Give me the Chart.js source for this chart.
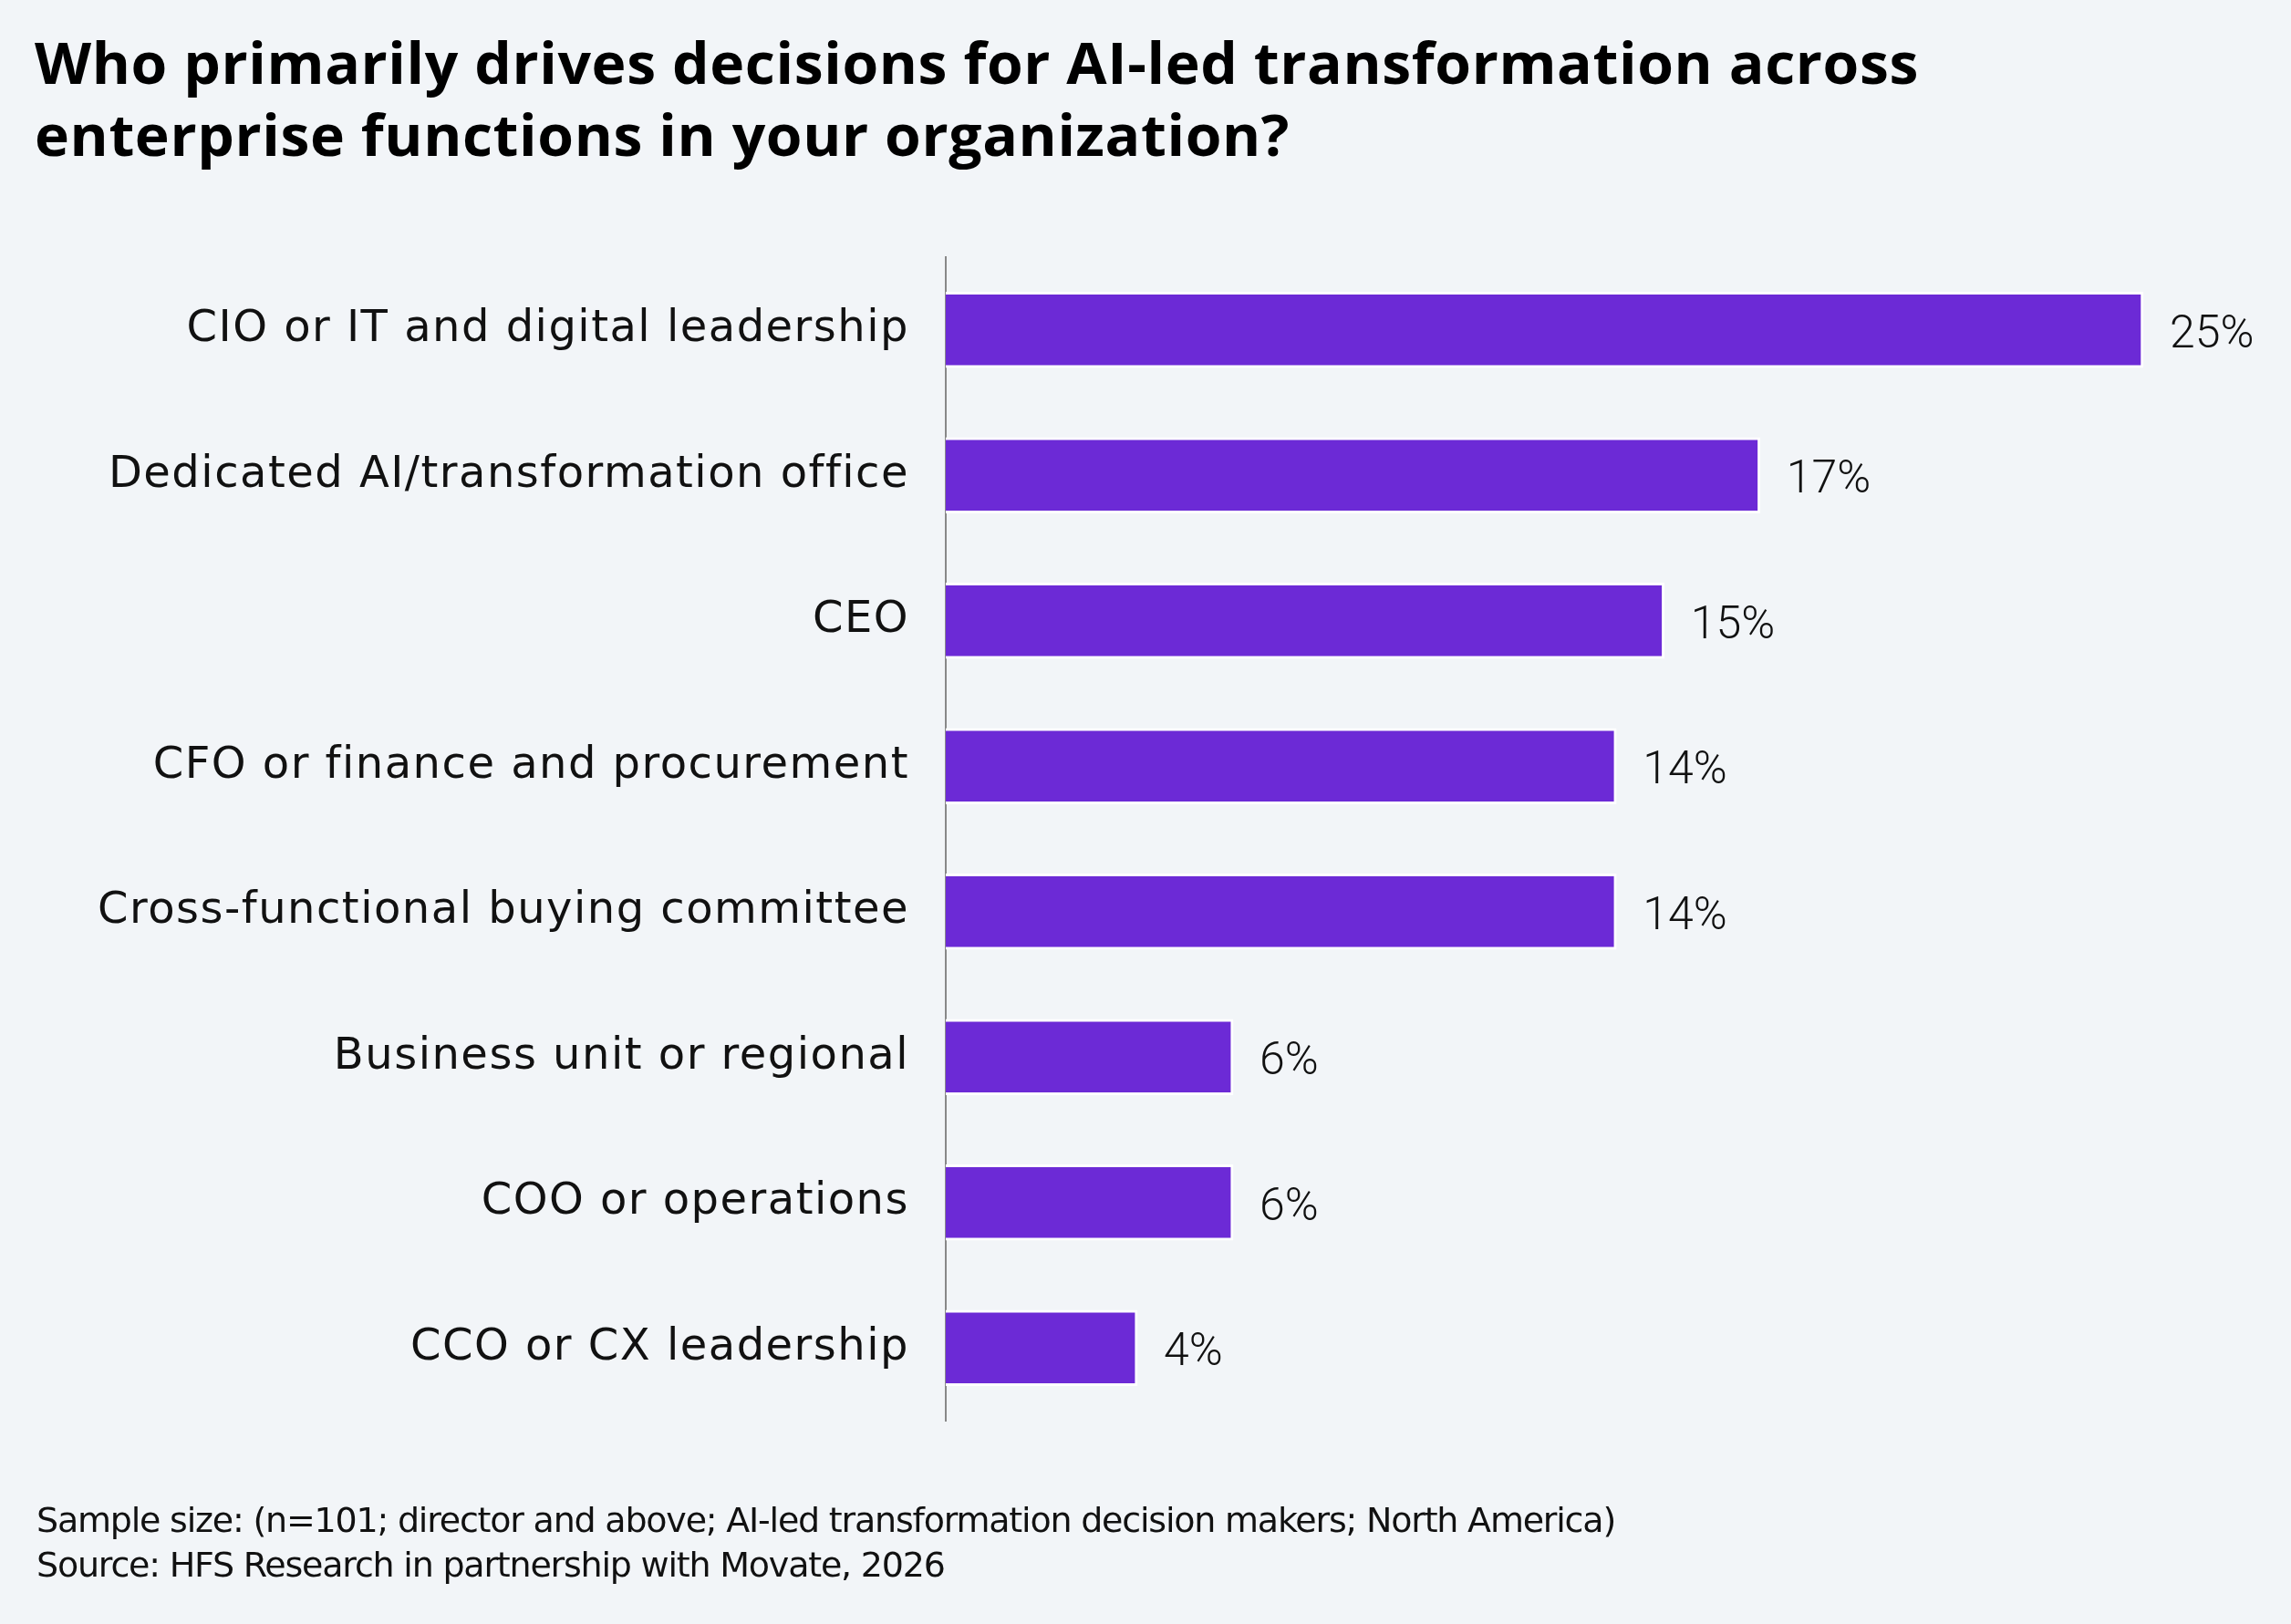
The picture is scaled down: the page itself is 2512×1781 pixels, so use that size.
<!DOCTYPE html>
<html>
<head>
<meta charset="utf-8">
<script src="https://cdn.jsdelivr.net/npm/chart.js@4.4.1/dist/chart.umd.min.js"></script>
<style>
  html, body { margin: 0; padding: 0; background: #F2F5F8; }
  #wrap { position: relative; width: 2512px; height: 1781px; background: #F2F5F8; overflow: hidden; }
  #title { position: absolute; left: 38px; top: 28px; font-family: "Open Sans", sans-serif; font-weight: 700; font-size: 63px; line-height: 79px; color: #000; white-space: nowrap; }
  #foot { position: absolute; left: 40px; top: 1643px; font-family: "DejaVu Sans", sans-serif; font-weight: 400; font-size: 38px; line-height: 49px; color: #111; white-space: nowrap; }
  .ln { display: inline-block; transform-origin: 0 50%; }
  #c { position: absolute; left: 0; top: 0; }
</style>
</head>
<body>
<div id="wrap">
  <div id="title"><span class="ln" id="t1">Who primarily drives decisions for AI-led transformation across</span><br><span class="ln" id="t2">enterprise functions in your organization?</span></div>
  <canvas id="c" width="2512" height="1781"></canvas>
  <div id="foot"><span class="ln" id="f1">Sample size: (n=101; director and above; AI-led transformation decision makers; North America)</span><br><span class="ln" id="f2">Source: HFS Research in partnership with Movate, 2026</span></div>
</div>
<script>
const categories = [
  "CIO or IT and digital leadership",
  "Dedicated AI/transformation office",
  "CEO",
  "CFO or finance and procurement",
  "Cross-functional buying committee",
  "Business unit or regional",
  "COO or operations",
  "CCO or CX leadership"
];
const values = [25, 17, 15, 14, 14, 6, 6, 4];
const valueLabels = ["25%", "17%", "15%", "14%", "14%", "6%", "6%", "4%"];

const LABEL_FONT = '"DejaVu Sans", sans-serif';
const VALUE_FONT = 'Roboto, sans-serif';

// Fit text lines to the reference widths: part horizontal stretch, part letter-spacing
function fitLine(refId, targetWidth, otherIds, stretchShare) {
  const el = document.getElementById(refId);
  const n = el.textContent.length;
  const w = el.getBoundingClientRect().width;
  const r = targetWidth / w;
  const s = 1 + (r - 1) * stretchShare;
  const sp = (targetWidth / s - w) / n;
  [refId].concat(otherIds).forEach(id => {
    const e = document.getElementById(id);
    e.style.letterSpacing = sp + 'px';
    e.style.transform = 'scaleX(' + s + ')';
  });
}
fitLine('t1', 2066, ['t2'], 0.5);
fitLine('f1', 1731, ['f2'], 0);

// letter spacing for category labels on the canvas
const tmp = document.createElement('canvas').getContext('2d');
tmp.font = '400 48px ' + LABEL_FONT;
const longest = "Cross-functional buying committee";
const labelSpacing = (890 - tmp.measureText(longest).width) / longest.length;

const spacingPlugin = {
  id: 'spacing',
  beforeDraw(chart) { chart.ctx.letterSpacing = labelSpacing + 'px'; },
  afterDraw(chart) { chart.ctx.letterSpacing = '0px'; }
};

const valuePlugin = {
  id: 'valueLabels',
  afterDatasetsDraw(chart) {
    const ctx = chart.ctx;
    const meta = chart.getDatasetMeta(0);
    ctx.save();
    ctx.letterSpacing = '0px';
    ctx.font = '300 50px ' + VALUE_FONT;
    ctx.fillStyle = '#111';
    ctx.textAlign = 'left';
    ctx.textBaseline = 'alphabetic';
    meta.data.forEach((bar, i) => {
      ctx.fillText(valueLabels[i], bar.x + 29, bar.y + 19);
    });
    ctx.restore();
  }
};

new Chart(document.getElementById('c'), {
  type: 'bar',
  data: {
    labels: categories,
    datasets: [{
      data: values,
      backgroundColor: '#6C2AD6',
      borderColor: '#FFFFFF',
      borderWidth: 3,
      borderSkipped: 'start',
      barThickness: 83
    }]
  },
  options: {
    indexAxis: 'y',
    responsive: false,
    animation: false,
    devicePixelRatio: 1,
    layout: { padding: { left: 0, right: 57, top: 282, bottom: 223 } },
    plugins: { legend: { display: false }, tooltip: { enabled: false } },
    scales: {
      x: { display: false, min: 0, max: 27 },
      y: {
        afterFit(scale) { scale.width = 1037; },
        grid: { display: false, drawTicks: false },
        border: { display: true, color: '#888888', width: 2 },
        ticks: { padding: 40, color: '#111', font: { family: LABEL_FONT, size: 48, weight: '400' } }
      }
    }
  },
  plugins: [spacingPlugin, valuePlugin]
});
</script>
</body>
</html>
